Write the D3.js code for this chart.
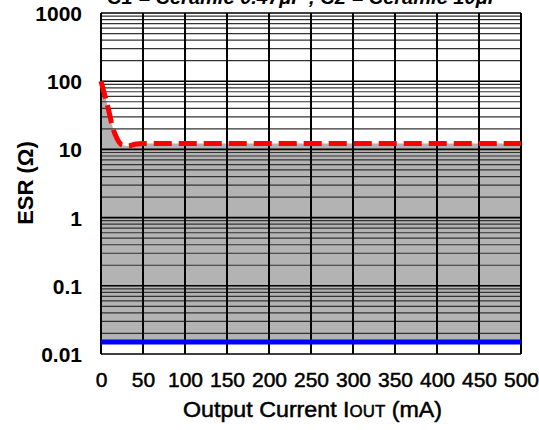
<!DOCTYPE html>
<html><head><meta charset="utf-8">
<script src="https://cdn.jsdelivr.net/npm/d3@7"></script>
<style>body{margin:0;background:#fff;} text{font-family:"Liberation Sans",Arial,sans-serif;}</style>
</head><body>
<svg id="c" width="539" height="430"></svg>
<script>
const titleText = "C1 = Ceramic 0.47\u03bcF , C2 = Ceramic 10\u03bcF";
const xTicks = [0,50,100,150,200,250,300,350,400,450,500];
const yTicks = [0.01,0.1,1,10,100,1000];
const yTickLabels = ["0.01","0.1","1","10","100","1000"];
const upperCurrent = [0,5,9,13,19,25,32,42,50,100,150,200,250,300,350,400,450,500];
const upperESR =     [100,59,38,23,14.5,11.6,11.2,12,12.2,12.2,12.2,12.2,12.2,12.2,12.2,12.2,12.2,12.2];
const lowerCurrent = [0,500];
const lowerESR = [0.015,0.015];

const svg = d3.select("#c");
const L=101, R=521, T=13, B=354;
const x = d3.scaleLinear().domain([0,500]).range([L,R]);
const y = d3.scaleLog().domain([0.01,1000]).range([B,T]);

const upper = upperCurrent.map((c,i)=>({c, v:upperESR[i]}));
const lower = lowerCurrent.map((c,i)=>({c, v:lowerESR[i]}));

svg.append("path").datum(upper)
  .attr("fill","#b3b3b3")
  .attr("d", d3.area().x(d=>x(d.c)).y0(y(lowerESR[0])).y1(d=>y(d.v)).curve(d3.curveMonotoneX));

const minor=[];
for(let k=-2;k<3;k++) for(let m=2;m<10;m++) minor.push(m*Math.pow(10,k));
svg.append("g").selectAll("line").data(minor).join("line")
  .attr("x1",L).attr("x2",R).attr("y1",d=>y(d)).attr("y2",d=>y(d))
  .attr("stroke","#333").attr("stroke-width",1.2);
svg.append("g").selectAll("line").data(yTicks).join("line")
  .attr("x1",L).attr("x2",R).attr("y1",d=>y(d)).attr("y2",d=>y(d))
  .attr("stroke","#000").attr("stroke-width",1.6);
svg.append("g").selectAll("line").data(xTicks).join("line")
  .attr("x1",d=>x(d)).attr("x2",d=>x(d)).attr("y1",T).attr("y2",B)
  .attr("stroke","#000").attr("stroke-width",2);

svg.append("path").datum(lower)
  .attr("fill","none").attr("stroke","#0000ff").attr("stroke-width",5)
  .attr("d", d3.line().x(d=>x(d.c)).y(d=>y(d.v)));
svg.append("path").datum(upper)
  .attr("fill","none").attr("stroke","#ff0000").attr("stroke-width",5)
  .attr("stroke-dasharray","18,7")
  .attr("d", d3.line().x(d=>x(d.c)).y(d=>y(d.v)).curve(d3.curveMonotoneX));

const xAxis = d3.axisBottom(x).tickValues(xTicks).tickSize(0).tickPadding(0).tickFormat(d3.format("d"));
const gx = svg.append("g").attr("transform",`translate(0,${B+33})`).call(xAxis);
gx.select(".domain").remove();
gx.selectAll("text").attr("dy",0).attr("font-size",21).attr("fill","#000")
  .attr("font-family","Liberation Sans, Arial, sans-serif").style("stroke","#000").style("stroke-width",0.5);

const yAxis = d3.axisLeft(y).tickValues(yTicks).tickSize(0).tickPadding(0).tickFormat((d,i)=>yTickLabels[i]);
const gy = svg.append("g").attr("transform",`translate(${L-19},0)`).call(yAxis);
gy.select(".domain").remove();
gy.selectAll("text").attr("dy","0.36em").attr("font-size",21).attr("font-weight","bold").attr("fill","#000")
  .attr("font-family","Liberation Sans, Arial, sans-serif");

svg.append("text").attr("x",107).attr("y",4).attr("font-size",19)
  .attr("font-weight","bold").attr("font-style","italic")
  .attr("textLength",393).attr("lengthAdjust","spacingAndGlyphs")
  .text(titleText);

const xt = svg.append("text").attr("x",183).attr("y",417)
  .attr("font-size",22).attr("textLength",259).attr("lengthAdjust","spacingAndGlyphs")
  .style("stroke","#000").style("stroke-width",0.5);
xt.append("tspan").text("Output Current I");
xt.append("tspan").attr("font-size",16).text("OUT");
xt.append("tspan").text(" (mA)");

svg.append("text").attr("transform","translate(33,183) rotate(-90)").attr("text-anchor","middle")
  .attr("font-size",22).attr("font-weight","bold").text("ESR (\u03a9)");
</script>
</body></html>
